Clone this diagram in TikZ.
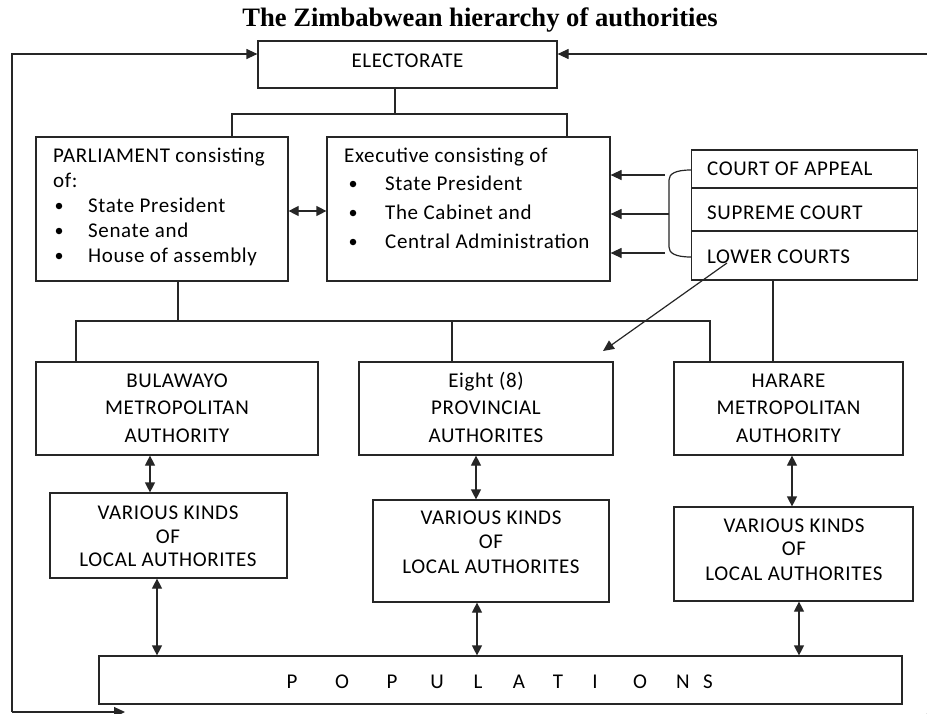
\documentclass[tikz,border=0pt]{standalone}
\usepackage{fontspec}
\setmainfont{Carlito}
\newfontfamily\bodyfont{Carlito}[LetterSpace=3]
\newfontfamily\titlefont{Liberation Serif}
\usetikzlibrary{arrows.meta}
\begin{document}
\begin{tikzpicture}[x=1pt,y=-1pt,
  box/.style={draw=black!85, line width=1.2pt, rectangle, inner sep=0pt},
  txt/.style={inner sep=0pt, text height=13.6pt, text depth=0pt, font=\bodyfont\fontsize{21}{25}\selectfont},
  bul/.style={circle, fill=black, inner sep=0pt, minimum size=6.5pt},
  conn/.style={line width=1.2pt, draw=black!85},
  arr/.style={conn, -{Triangle[length=11pt,width=10pt]}},
  dbl/.style={conn, {Triangle[length=10pt,width=10pt]}-{Triangle[length=10pt,width=10pt]}},
]
\useasboundingbox[fill=white] (0,0) rectangle (927,713);

% title
\node[inner sep=0pt, font=\titlefont\bfseries\fontsize{26.6}{30}\selectfont] (title) at (480,20) {The Zimbabwean hierarchy of authorities};

% boxes
\node[box, minimum width=299pt, minimum height=47pt] (elec) at (407.5,64.5) {};
\node[box, minimum width=252pt, minimum height=144pt] (parl) at (162,209) {};
\node[box, minimum width=283pt, minimum height=144pt] (exec) at (468.5,209) {};
\node[box, minimum width=226pt, minimum height=38pt] (ca) at (804.5,169) {};
\node[box, minimum width=226pt, minimum height=43pt] (sc) at (804.5,209.5) {};
\node[box, minimum width=226pt, minimum height=49pt] (lc) at (804.5,255.5) {};
\node[box, minimum width=282pt, minimum height=93pt] (bula) at (177,408.5) {};
\node[box, minimum width=254pt, minimum height=93pt] (prov) at (486,408.5) {};
\node[box, minimum width=229pt, minimum height=93pt] (harare) at (788.5,408.5) {};
\node[box, minimum width=237pt, minimum height=85pt] (loc1) at (168.5,535.5) {};
\node[box, minimum width=236pt, minimum height=102pt] (loc2) at (491,551) {};
\node[box, minimum width=239pt, minimum height=94pt] (loc3) at (793.5,554) {};
\node[box, minimum width=803pt, minimum height=48pt] (pop) at (500.5,680) {};

% texts
\node[txt] (elect) at (407.5,61) {ELECTORATE};

\node[txt, anchor=west] (pt1) at (53,156) {PARLIAMENT consisting};
\node[txt, anchor=west] (pt2) at (53,181) {of:};
\node[bul] (pb1) at (59,206) {};
\node[bul] (pb2) at (59,231) {};
\node[bul] (pb3) at (59,256) {};
\node[txt, anchor=west] (pt3) at (88,206) {State President};
\node[txt, anchor=west] (pt4) at (88,231) {Senate and};
\node[txt, anchor=west] (pt5) at (88,256) {House of assembly};

\node[txt, anchor=west] (et1) at (344,156) {Executive consisting of};
\node[bul] (eb1) at (353,184) {};
\node[bul] (eb2) at (353,213) {};
\node[bul] (eb3) at (353,242) {};
\node[txt, anchor=west] (et2) at (385,184) {State President};
\node[txt, anchor=west] (et3) at (385,213) {The Cabinet and};
\node[txt, anchor=west] (et4) at (385,242) {Central Administration};

\node[txt, anchor=west] (cat) at (707,169) {COURT OF APPEAL};
\node[txt, anchor=west] (sct) at (707,213) {SUPREME COURT};
\node[txt, anchor=west] (lct) at (707,257) {LOWER COURTS};

\node[txt] (bt1) at (177,381) {BULAWAYO};
\node[txt] (bt2) at (177,408) {METROPOLITAN};
\node[txt] (bt3) at (177,436) {AUTHORITY};
\node[txt] (prt1) at (486,381) {Eight (8)};
\node[txt] (prt2) at (486,408) {PROVINCIAL};
\node[txt] (prt3) at (486,436) {AUTHORITES};
\node[txt] (ht1) at (788.5,381) {HARARE};
\node[txt] (ht2) at (788.5,408) {METROPOLITAN};
\node[txt] (ht3) at (788.5,436) {AUTHORITY};

\node[txt] (l1a) at (168,513) {VARIOUS KINDS};
\node[txt] (l1b) at (168,537) {OF};
\node[txt] (l1c) at (168,560) {LOCAL AUTHORITES};
\node[txt] (l2a) at (491,518) {VARIOUS KINDS};
\node[txt] (l2b) at (491,542) {OF};
\node[txt] (l2c) at (491,567) {LOCAL AUTHORITES};
\node[txt] (l3a) at (794,526) {VARIOUS KINDS};
\node[txt] (l3b) at (794,549) {OF};
\node[txt] (l3c) at (794,574) {LOCAL AUTHORITES};

\foreach \c/\x [count=\i] in {P/292,O/342,P/392,U/437,L/478,A/519,T/558,I/595,O/640,N/683,S/708}
  \node[txt] (popl\i) at (\x,682) {\c};

% connectors: electorate tree
\coordinate (j1) at (395,114);
\coordinate (e1) at (232,114);
\coordinate (e2) at (567,114);
\draw[conn] (elec.south -| j1) -- (j1);
\draw[conn] (parl.north -| e1) -- (e1) -- (e2) -- (exec.north -| e2);

% parliament <-> executive
\draw[dbl] (parl.east |- 0,211) -- (exec.west |- 0,211);

% courts bracket and arrows
\coordinate (k1) at (691,170);
\coordinate (k2) at (669,180);
\coordinate (k3) at (669,247);
\coordinate (k4) at (691,257);
\draw[conn] (k1) .. controls (675,170) and (669,174) .. (k2) -- (k3) .. controls (669,253) and (675,257) .. (k4);
\coordinate (b1) at (665,175);
\coordinate (b2) at (669,214);
\coordinate (b3) at (665,253);
\draw[arr] (b1) -- (exec.east |- b1);
\draw[arr] (b2) -- (exec.east |- b2);
\draw[arr] (b3) -- (exec.east |- b3);

% lower courts diagonal
\coordinate (d1) at (727,263);
\coordinate (d2) at (603,351);
\draw[arr] (d1) -- (d2);

% courts to harare
\coordinate (h1) at (773,300);
\draw[conn] (lc.south -| h1) -- (harare.north -| h1);

% parliament tree
\coordinate (t0) at (178,321);
\coordinate (t1) at (76,321);
\coordinate (t2) at (452,321);
\coordinate (t3) at (710,321);
\draw[conn] (parl.south -| t0) -- (t0);
\draw[conn] (bula.north -| t1) -- (t1) -- (t3) -- (harare.north -| t3);
\draw[conn] (t2) -- (prov.north -| t2);

% vertical double arrows
\coordinate (v1) at (150,0);
\coordinate (v2) at (157,0);
\coordinate (v3) at (476,0);
\coordinate (v4) at (477,0);
\coordinate (v5) at (792,0);
\coordinate (v6) at (799,0);
\draw[dbl] (bula.south -| v1) -- (loc1.north -| v1);
\draw[dbl] (loc1.south -| v2) -- (pop.north -| v2);
\draw[dbl] (prov.south -| v3) -- (loc2.north -| v3);
\draw[dbl] (loc2.south -| v4) -- (pop.north -| v4);
\draw[dbl] (harare.south -| v5) -- (loc3.north -| v5);
\draw[dbl] (loc3.south -| v6) -- (pop.north -| v6);

% outer loop
\coordinate (o1) at (12,712);
\coordinate (o2) at (12,54);
\coordinate (o3) at (125,712);
\draw[arr] (o1) -- (o2) -- (elec.west |- o2);
\draw[arr] (o1) -- (o3);
\coordinate (r1) at (927,54);
\draw[arr] (r1) -- (elec.east |- r1);
\coordinate (r2) at (940,717);
\coordinate (r3) at (920,717);
\draw[arr] (r2) -- (r3);
\end{tikzpicture}
\end{document}
